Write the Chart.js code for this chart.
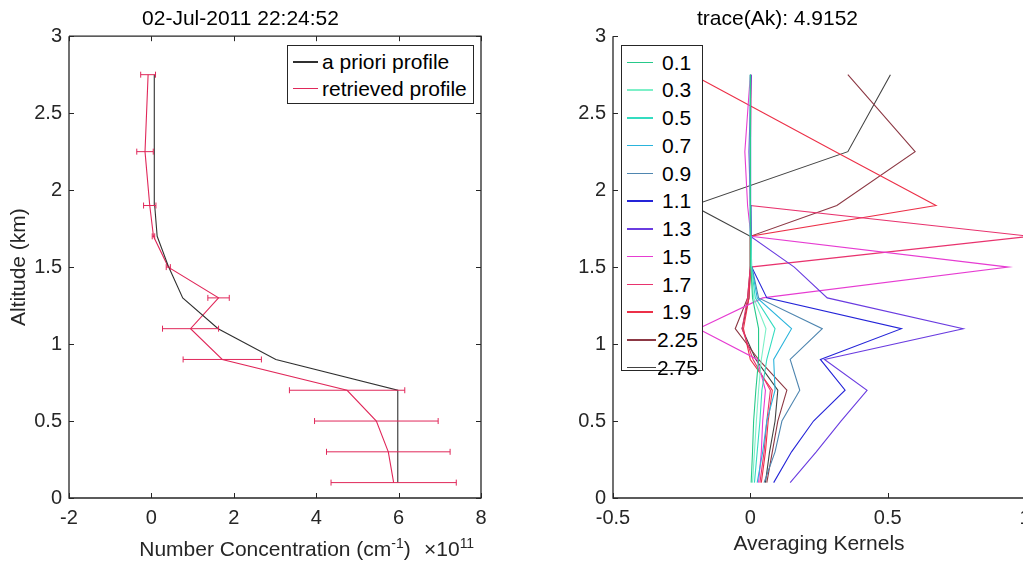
<!DOCTYPE html>
<html>
<head>
<meta charset="utf-8">
<title>Retrieved profile and averaging kernels</title>
<script src="https://cdn.jsdelivr.net/npm/chart.js@4.4.1/dist/chart.umd.min.js"></script>
<style>
  html, body { margin: 0; padding: 0; background: #fff; overflow: hidden; width: 1023px; height: 564px; }
  body { position: relative; font-family: "Liberation Sans", Arial, Helvetica, sans-serif; color: #262626; }
  canvas { position: absolute; top: 0; }
  #profileCanvas { left: 0; }
  #kernelCanvas { left: 530px; }
  .legend { position: absolute; background: #fff; border: 1.3px solid #262626; box-sizing: border-box; z-index: 2; }
  .entry { position: absolute; left: 0; right: 0; height: 26px; }
  .swatch { position: absolute; top: 12px; height: 1.5px; }
  .label { position: absolute; top: 0; font-size: 21px; line-height: 26px; white-space: nowrap; color: #000; }
  .axis-text { position: absolute; font-size: 21px; line-height: 26px; white-space: nowrap; color: #262626; }
  .axis-text sup { font-size: 14px; vertical-align: 8px; line-height: 0; }
</style>
</head>
<body>
<canvas id="profileCanvas" width="550" height="564"></canvas>
<canvas id="kernelCanvas" width="578" height="564"></canvas>
<div id="profileXLabel" class="axis-text" style="left:0; width:550px; top:536px; text-align:center;">Number Concentration (cm<sup>-1</sup>)</div>
<div id="profileExponent" class="axis-text" style="left:424px; top:536px;">&times;10<sup>11</sup></div>
<div id="profileLegend" class="legend" style="left:287px; top:45px; width:187px; height:59px;"></div>
<div id="kernelLegend" class="legend" style="left:621px; top:45px; width:82px; height:326px;"></div>

<script>
// Retrieval altitude grid (km)
const ALTITUDES = [0.1, 0.3, 0.5, 0.7, 0.9, 1.1, 1.3, 1.5, 1.7, 1.9, 2.25, 2.75];

// Number concentration, units of 1e11 cm^-1
const APRIORI = [5.98, 5.98, 5.98, 5.98, 3.02, 1.62, 0.76, 0.42, 0.14, 0.08, 0.07, 0.07];
const RETRIEVED = [5.88, 5.75, 5.46, 4.75, 1.72, 0.95, 1.63, 0.41, 0.05, -0.04, -0.155, -0.08];
const RETRIEVED_ERR = [1.52, 1.50, 1.50, 1.40, 0.95, 0.68, 0.26, 0.05, 0.03, 0.15, 0.20, 0.18];

const PROFILE_NAMES = ['a priori profile', 'retrieved profile'];
const PROFILE_COLORS = ['#303030', '#e0285a'];

// Averaging kernel rows, one per nominal altitude, sampled on ALTITUDES
const KERNEL_NAMES = ['0.1', '0.3', '0.5', '0.7', '0.9', '1.1', '1.3', '1.5', '1.7', '1.9', '2.25', '2.75'];
const K_01  = [0.003, 0.008, 0.012, 0.020, 0.030, 0.030, 0.008, 0.002, 0.001, 0.000, 0.000, 0.000];
const K_03  = [0.008, 0.015, 0.022, 0.030, 0.040, 0.057, 0.012, 0.003, 0.001, 0.000, 0.000, 0.000];
const K_05  = [0.015, 0.025, 0.035, 0.042, 0.060, 0.090, 0.018, 0.004, 0.002, 0.001, 0.000, 0.000];
const K_07  = [0.025, 0.045, 0.060, 0.090, 0.085, 0.150, 0.025, 0.005, 0.002, 0.001, 0.000, 0.000];
const K_09  = [0.050, 0.090, 0.115, 0.180, 0.145, 0.262, 0.030, 0.006, 0.003, 0.002, 0.001, 0.000];
const K_11  = [0.085, 0.150, 0.230, 0.345, 0.255, 0.550, 0.060, 0.005, 0.003, 0.002, 0.001, 0.001];
const K_13  = [0.145, 0.240, 0.330, 0.425, 0.270, 0.775, 0.280, 0.160, 0.000, 0.000, -0.005, 0.003];
const K_15  = [0.030, 0.040, 0.045, 0.055, 0.025, -0.190, 0.045, 0.940, 0.002, -0.010, -0.020, 0.000];
const K_17  = [0.035, 0.050, 0.060, 0.073, 0.010, -0.030, -0.010, 0.000, 1.020, 0.000, 0.000, 0.003];
const K_19  = [0.040, 0.055, 0.065, 0.080, 0.000, -0.025, -0.005, 0.002, 0.000, 0.676, 0.310, -0.210];
const K_225 = [0.060, 0.080, 0.100, 0.133, 0.030, -0.055, -0.010, 0.000, 0.000, 0.315, 0.600, 0.355];
const K_275 = [0.055, 0.070, 0.090, 0.100, 0.020, -0.030, -0.005, 0.000, 0.000, -0.210, 0.355, 0.510];
const KERNELS = [K_01, K_03, K_05, K_07, K_09, K_11, K_13, K_15, K_17, K_19, K_225, K_275];
const KERNEL_COLORS = ['#26c98a', '#7df0c8', '#34dcc0', '#2ab4dc', '#4f86b0', '#2424d8',
                       '#6a3ce0', '#e63cd2', '#e8336e', '#ec3048', '#8c3844', '#424242'];

// Axis ticks
const PROFILE_X_TICKS = [-2, 0, 2, 4, 6, 8];
const KERNEL_X_TICKS = [-0.5, 0, 0.5, 1];
const ALT_TICKS = [0, 0.5, 1, 1.5, 2, 2.5, 3];

const FONT = '"Liberation Sans", Arial, Helvetica, sans-serif';
const AXIS_COLOR = '#262626';

function points(xs) {
  return ALTITUDES.map((a, i) => ({ x: xs[i], y: a }));
}

// Axis frame with tick marks pointing into the plot area
const framePlugin = {
  id: 'frame',
  afterDatasetsDraw(chart, args, opts) {
    const { ctx, chartArea: { left, right, top, bottom } } = chart;
    const xs = chart.scales.x, ys = chart.scales.y;
    const len = 5;
    ctx.save();
    ctx.strokeStyle = AXIS_COLOR;
    ctx.lineWidth = 1.3;
    ctx.beginPath();
    ctx.moveTo(left, top); ctx.lineTo(left, bottom); ctx.lineTo(right, bottom);
    if (opts.box) { ctx.lineTo(right, top); ctx.lineTo(left, top); }
    ctx.stroke();
    ctx.lineWidth = 1;
    ctx.beginPath();
    xs.ticks.forEach(t => {
      const px = Math.round(xs.getPixelForValue(t.value)) + 0.5;
      ctx.moveTo(px, bottom); ctx.lineTo(px, bottom - len);
      if (opts.box) { ctx.moveTo(px, top); ctx.lineTo(px, top + len); }
    });
    ys.ticks.forEach(t => {
      const py = Math.round(ys.getPixelForValue(t.value)) + 0.5;
      ctx.moveTo(left, py); ctx.lineTo(left + len, py);
      if (opts.box) { ctx.moveTo(right, py); ctx.lineTo(right - len, py); }
    });
    ctx.stroke();
    ctx.restore();
  }
};

// Horizontal error bars on the retrieved profile
const errorBarPlugin = {
  id: 'errorBars',
  afterDatasetsDraw(chart) {
    const { ctx } = chart;
    const xs = chart.scales.x, ys = chart.scales.y;
    const cap = 3;
    ctx.save();
    ctx.strokeStyle = PROFILE_COLORS[1];
    ctx.lineWidth = 1;
    ctx.beginPath();
    RETRIEVED.forEach((v, i) => {
      const py = ys.getPixelForValue(ALTITUDES[i]);
      const x0 = xs.getPixelForValue(v - RETRIEVED_ERR[i]);
      const x1 = xs.getPixelForValue(v + RETRIEVED_ERR[i]);
      ctx.moveTo(x0, py); ctx.lineTo(x1, py);
      ctx.moveTo(x0, py - cap); ctx.lineTo(x0, py + cap);
      ctx.moveTo(x1, py - cap); ctx.lineTo(x1, py + cap);
    });
    ctx.stroke();
    ctx.restore();
  }
};

function tickList(values) {
  return scale => { scale.ticks = values.map(v => ({ value: v })); };
}

function fmt(v) { return String(+Number(v).toFixed(2)); }

function axes(xMin, xMax, xTicks, yAxisWidth, yTitle, xTitle) {
  return {
    x: {
      type: 'linear', min: xMin, max: xMax,
      afterBuildTicks: tickList(xTicks),
      afterFit: s => { s.height = 66; },
      grid: { display: false, drawTicks: false },
      border: { display: false },
      ticks: { padding: 8, color: AXIS_COLOR, font: { family: FONT, size: 20 }, callback: fmt, maxRotation: 0, autoSkip: false },
      title: xTitle ? { display: true, text: xTitle, color: AXIS_COLOR, font: { family: FONT, size: 21 }, padding: { top: 0, bottom: 7 } } : { display: false }
    },
    y: {
      type: 'linear', min: 0, max: 3,
      afterBuildTicks: tickList(ALT_TICKS),
      afterFit: s => { s.width = yAxisWidth; },
      grid: { display: false, drawTicks: false },
      border: { display: false },
      ticks: { padding: 7, color: AXIS_COLOR, font: { family: FONT, size: 20 }, callback: fmt, autoSkip: false },
      title: yTitle ? { display: true, text: yTitle, color: AXIS_COLOR, font: { family: FONT, size: 21 }, padding: { top: 7, bottom: 0 } } : { display: false }
    }
  };
}

function titleOpts(text) {
  return { display: true, text, color: '#000', font: { family: FONT, size: 21, weight: 'normal' }, padding: { top: 7, bottom: 4 } };
}

// Left panel: number concentration profiles
new Chart(document.getElementById('profileCanvas'), {
  type: 'scatter',
  data: {
    datasets: [
      { label: PROFILE_NAMES[0], data: points(APRIORI), showLine: true, borderColor: PROFILE_COLORS[0], borderWidth: 1.1, pointRadius: 0, tension: 0 },
      { label: PROFILE_NAMES[1], data: points(RETRIEVED), showLine: true, borderColor: PROFILE_COLORS[1], borderWidth: 1.1, pointRadius: 0, tension: 0 }
    ]
  },
  options: {
    responsive: false, animation: false,
    layout: { padding: { left: 0, right: 69, top: 0, bottom: 0 } },
    scales: axes(-2, 8, PROFILE_X_TICKS, 69, 'Altitude (km)', null),
    plugins: {
      legend: { display: false }, tooltip: { enabled: false },
      title: titleOpts('02-Jul-2011 22:24:52'),
      frame: { box: true }
    }
  },
  plugins: [errorBarPlugin, framePlugin]
});

// Right panel: averaging kernels
new Chart(document.getElementById('kernelCanvas'), {
  type: 'scatter',
  data: {
    datasets: KERNELS.map((k, i) => ({
      label: KERNEL_NAMES[i], data: points(k), showLine: true,
      borderColor: KERNEL_COLORS[i], borderWidth: 1.1, pointRadius: 0, tension: 0
    }))
  },
  options: {
    responsive: false, animation: false,
    layout: { padding: { left: 0, right: 83, top: 0, bottom: 0 } },
    scales: axes(-0.5, 1, KERNEL_X_TICKS, 83, null, 'Averaging Kernels'),
    plugins: {
      legend: { display: false }, tooltip: { enabled: false },
      title: titleOpts('trace(Ak): 4.9152'),
      frame: { box: false }
    }
  },
  plugins: [framePlugin]
});

// Legends
function buildLegend(el, names, colors, opt) {
  names.forEach((name, i) => {
    const row = document.createElement('div');
    row.className = 'entry';
    row.style.top = (opt.first + i * opt.step - 13) + 'px';
    const sw = document.createElement('div');
    sw.className = 'swatch';
    sw.style.left = opt.swLeft + 'px';
    sw.style.width = opt.swWidth(name) + 'px';
    sw.style.backgroundColor = colors[i];
    const lb = document.createElement('div');
    lb.className = 'label';
    lb.style.left = opt.textLeft(name) + 'px';
    lb.textContent = name;
    row.appendChild(sw);
    row.appendChild(lb);
    el.appendChild(row);
  });
}

buildLegend(document.getElementById('profileLegend'), PROFILE_NAMES, PROFILE_COLORS, {
  first: 16, step: 26.5, swLeft: 5, swWidth: () => 25, textLeft: () => 34
});
buildLegend(document.getElementById('kernelLegend'), KERNEL_NAMES, KERNEL_COLORS, {
  first: 16.5, step: 27.75, swLeft: 5, swWidth: n => (n.length > 3 ? 29 : 26), textLeft: n => (n.length > 3 ? 35 : 40)
});
</script>
</body>
</html>
